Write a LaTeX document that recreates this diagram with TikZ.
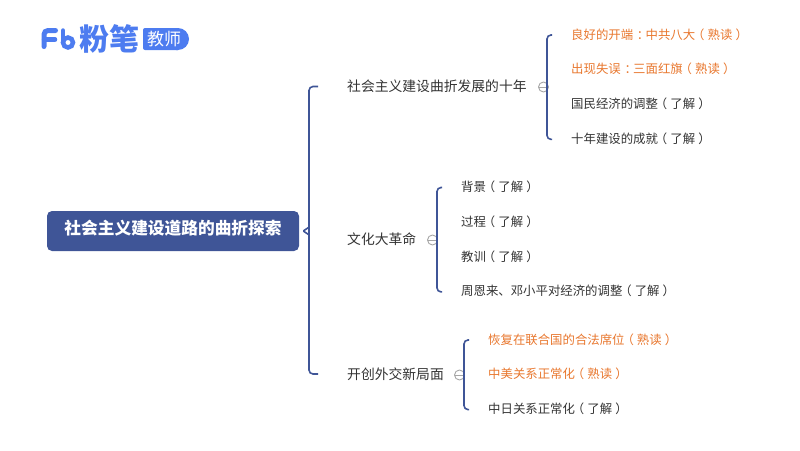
\documentclass[tikz,border=0pt]{standalone}
\usepackage{fontspec}
\setmainfont{Noto Sans CJK SC}
\usepackage{xcolor}
\usetikzlibrary{calc, positioning}
\definecolor{rootBlue}{HTML}{3F5597}
\definecolor{logoBlue}{HTML}{4D7CF0}
\definecolor{hotOrange}{HTML}{E8772E}
\definecolor{textGray}{HTML}{333333}
\tikzset{
    root/.style={rectangle, fill=rootBlue, rounded corners=5pt, minimum width=252pt, minimum height=40pt, inner sep=0pt, text height=14pt, text depth=7pt, text=white, font=\fontsize{16.7}{20}\selectfont\bfseries},
    topic/.style={anchor=west, inner sep=0pt, text=textGray, font=\fontsize{13.8}{16}\selectfont},
    leaf/.style={inner sep=0pt, minimum height=34.4pt, text height=10pt, text depth=2pt, text=textGray, font=\fontsize{12.4}{15}\selectfont},
    hot/.style={leaf, text=hotOrange},
    bracket/.style={draw=rootBlue, line width=1.6pt, rounded corners=4pt},
    fold/.style={circle, draw=gray!70, fill=white, line width=0.9pt, minimum size=10pt, inner sep=0pt, path picture={\draw[gray!70, line width=0.9pt] (path picture bounding box.west) -- (path picture bounding box.east);}},
    logoLine/.style={draw=logoBlue, line width=5pt, line cap=round}
}
% centred full-width punctuation
\newcommand{\opar}{\kern-.25em（\kern.25em}
\newcommand{\cpar}{\kern.25em）\kern-.25em}
\newcommand{\mcolon}{\kern.3em：\kern-.3em}
\newcommand{\leafbracket}[2]{%
    \draw[bracket] ([xshift=-19pt]#1.west) -- ++(-5pt,0) -- ($(#2.west)+(-24pt,0)$) -- ++(5pt,0);
}
\begin{document}
\begin{tikzpicture}[x=1pt, y=-1pt]
        \useasboundingbox (0,0) rectangle (800,450);

        % Logo
        \draw[logoLine, rounded corners=4pt] (44,46.5) -- (44,30.5) -- (55.5,30.5);
        \draw[logoLine, line width=4.5pt] (44,39.5) -- (55,39.5);
        \draw[logoLine, line width=4.5pt] (63,30.5) -- (63,42.5);
        \draw[logoLine, line width=4.5pt] (68,42.5) circle[radius=5pt];
        \node[inner sep=0pt, text=logoBlue, font=\fontsize{30}{31}\selectfont\bfseries] (LogoName) at (109.5,38.5) {粉笔};
        \fill[logoBlue, rounded corners=2pt] (178,50) -- (143,50) -- (143,28) -- (178,28);
        \fill[logoBlue] (176,28) -- (178,28) arc[start angle=90, end angle=-90, radius=11pt] -- (176,50) -- cycle;
        \node[inner sep=0pt, text=white, font=\fontsize{17}{18}\selectfont] (LogoTag) at (164,39) {教师};

        % Root
        \node[root] (Root) at (173,231) {社会主义建设道路的曲折探索};

        % Topics
        \node[topic] (Decade) at (347,86.5) {社会主义建设曲折发展的十年};
        \node[topic] (Culture) at (347,239.5) {文化大革命};
        \node[topic] (Foreign) at (347,374) {开创外交新局面};

        % Leaves of the first topic
        \node[hot, anchor=west] (Good) at (571,35) {良好的开端\mcolon 中共八大\opar 熟读\cpar};
        \node[hot, below right=0pt and 0pt of Good.south west] (Fault) {出现失误\mcolon 三面红旗\opar 熟读\cpar};
        \node[leaf, below right=0pt and 0pt of Fault.south west] (Adjust) {国民经济的调整\opar 了解\cpar};
        \node[leaf, below right=0pt and 0pt of Adjust.south west] (Success) {十年建设的成就\opar 了解\cpar};

        % Leaves of the second topic
        \node[leaf, anchor=west] (Back) at (461,187.5) {背景\opar 了解\cpar};
        \node[leaf, below right=0pt and 0pt of Back.south west] (Course) {过程\opar 了解\cpar};
        \node[leaf, below right=0pt and 0pt of Course.south west] (Lesson) {教训\opar 了解\cpar};
        \node[leaf, below right=0pt and 0pt of Lesson.south west] (Zhou) {周恩来、邓小平对经济的调整\opar 了解\cpar};

        % Leaves of the third topic
        \node[hot, anchor=west] (Seat) at (488,340) {恢复在联合国的合法席位\opar 熟读\cpar};
        \node[hot, below right=0pt and 0pt of Seat.south west] (Usa) {中美关系正常化\opar 熟读\cpar};
        \node[leaf, below right=0pt and 0pt of Usa.south west] (Japan) {中日关系正常化\opar 了解\cpar};

        % Fold marks
        \node[fold] (FoldA) at (543.5,87) {};
        \node[fold] (FoldB) at (432.5,240) {};
        \node[fold] (FoldC) at (459.5,375) {};

        % Connections
        \coordinate (RootTip) at ($(Root.east)+(4,0)$);
        \draw[bracket] ([xshift=-29pt]Decade.west) -- ++(-9,0) -- ($(Foreign.west)+(-38,0)$) -- ++(9,0);
        \draw[bracket, rounded corners=1pt] ($(RootTip)+(6,-4)$) -- (RootTip) -- ($(RootTip)+(6,4)$);
        \leafbracket{Good}{Success}
        \leafbracket{Back}{Zhou}
        \leafbracket{Seat}{Japan}

    \end{tikzpicture}
\end{document}
